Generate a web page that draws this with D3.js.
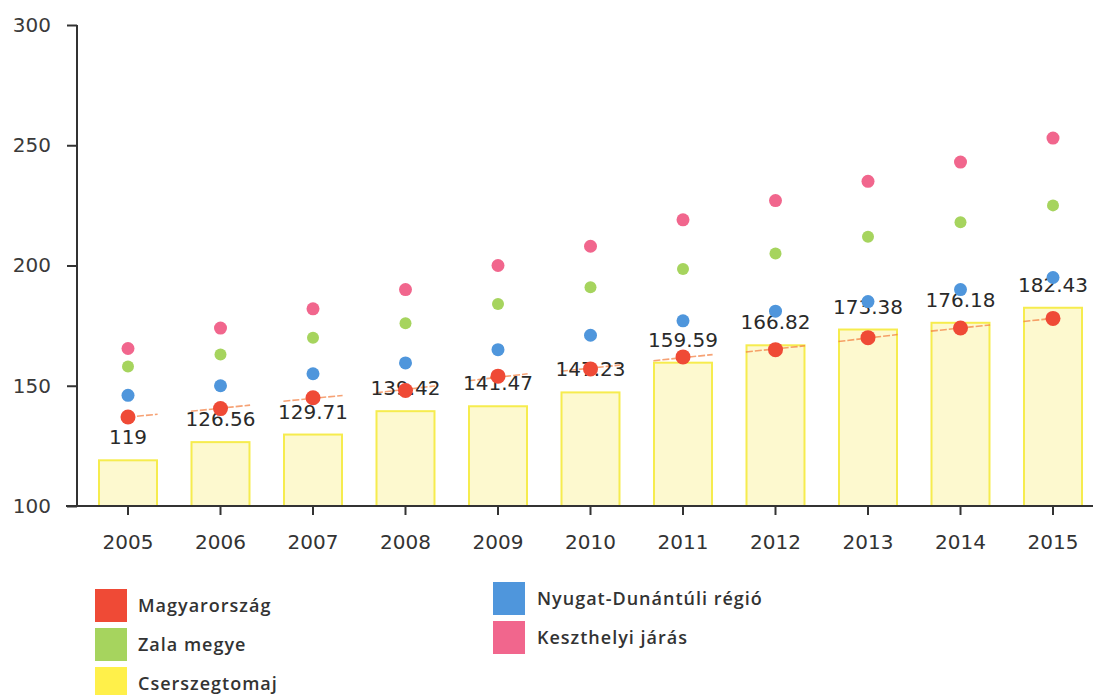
<!DOCTYPE html>
<html>
<head>
<meta charset="utf-8">
<script src="https://cdn.jsdelivr.net/npm/d3@7"></script>
<style>
  html, body { margin: 0; padding: 0; background: #fff; }
  svg { display: block; }
</style>
</head>
<body>
<svg id="chart" width="1093" height="695"></svg>
<script>
const years = ["2005","2006","2007","2008","2009","2010","2011","2012","2013","2014","2015"];
const cserszegtomaj = [119, 126.56, 129.71, 139.42, 141.47, 147.23, 159.59, 166.82, 173.38, 176.18, 182.43];
const magyarorszag = [137, 140.5, 145, 148, 154, 157, 162, 165, 170, 174, 178];
const nyugatDunantul = [146, 150, 155, 159.5, 165, 171, 177, 181, 185, 190, 195];
const zalaMegye = [158, 163, 170, 176, 184, 191, 198.5, 205, 212, 218, 225];
const keszthelyi = [165.5, 174, 182, 190, 200, 208, 219, 227, 235, 243, 253];
const yTicks = [100, 150, 200, 250, 300];

const legendLeft = ["Magyarország", "Zala megye", "Cserszegtomaj"];
const legendRight = ["Nyugat-Dunántúli régió", "Keszthelyi járás"];

const colors = {
  "Magyarország": "#ef4a36",
  "Zala megye": "#a6d45e",
  "Cserszegtomaj": "#fff04a",
  "Nyugat-Dunántúli régió": "#4f96dc",
  "Keszthelyi járás": "#f1668d"
};

const svg = d3.select("#chart");
const axisFont = "'DejaVu Sans', Verdana, sans-serif";

const x = d3.scaleBand().domain(years).range([81.75, 1099.25]).paddingInner(0.373).paddingOuter(0.1865);
const y = d3.scaleLinear().domain([100, 300]).range([506, 25]);
const cx = d => x(d) + x.bandwidth() / 2;

// Bars
svg.append("g").selectAll("rect").data(years).join("rect")
  .attr("x", d => x(d))
  .attr("width", x.bandwidth())
  .attr("y", (d, i) => y(cserszegtomaj[i]))
  .attr("height", (d, i) => y(100) - y(cserszegtomaj[i]))
  .attr("fill", "#fdf9cf")
  .attr("stroke", "#f6ec4e")
  .attr("stroke-width", 2);

// Magyarország line segments around each point
const mPts = years.map((d, i) => [cx(d), y(magyarorszag[i])]);
const segG = svg.append("g");
mPts.forEach((p, i) => {
  const f = 0.32;
  const a = i > 0 ? [p[0] + (mPts[i-1][0] - p[0]) * f, p[1] + (mPts[i-1][1] - p[1]) * f] : p;
  const b = i < mPts.length - 1 ? [p[0] + (mPts[i+1][0] - p[0]) * f, p[1] + (mPts[i+1][1] - p[1]) * f] : p;
  segG.append("line")
    .attr("x1", a[0]).attr("y1", a[1]).attr("x2", b[0]).attr("y2", b[1])
    .attr("stroke", "#f27a3a").attr("stroke-width", 1.6).attr("stroke-opacity", 0.7)
    .attr("stroke-dasharray", "7,2");
});

// Data labels
svg.append("g").selectAll("text").data(years).join("text")
  .attr("x", d => cx(d))
  .attr("y", (d, i) => y(cserszegtomaj[i]) - 16)
  .attr("text-anchor", "middle")
  .attr("font-family", axisFont)
  .attr("font-size", 20)
  .attr("fill", "#2a2a2a")
  .text((d, i) => cserszegtomaj[i]);

// Dots
function dots(vals, color, r) {
  svg.append("g").selectAll("circle").data(years).join("circle")
    .attr("cx", d => cx(d))
    .attr("cy", (d, i) => y(vals[i]))
    .attr("r", r)
    .attr("fill", color);
}
dots(keszthelyi, colors["Keszthelyi járás"], 6.5);
dots(zalaMegye, colors["Zala megye"], 6);
dots(nyugatDunantul, colors["Nyugat-Dunántúli régió"], 6.5);
dots(magyarorszag, colors["Magyarország"], 7.5);

// Y axis
const yAxis = svg.append("g").attr("transform", "translate(77,0)")
  .call(d3.axisLeft(y).tickValues(yTicks).tickSize(10).tickPadding(16).tickFormat(d3.format("d")));
yAxis.select(".domain").attr("stroke", "#333").attr("stroke-width", 2).attr("d", `M0,${y(300)}V${y(100)}`);
yAxis.selectAll(".tick line").attr("stroke", "#333").attr("stroke-width", 2);
yAxis.selectAll("text").attr("font-family", axisFont).attr("font-size", 20).attr("fill", "#3a3a3a");

// X axis
const xAxis = svg.append("g").attr("transform", `translate(0,${y(100)})`)
  .call(d3.axisBottom(x).tickSize(9).tickPadding(20));
xAxis.select(".domain").attr("stroke", "#333").attr("stroke-width", 2).attr("d", `M66,0H1093`);
xAxis.selectAll(".tick line").attr("stroke", "#333").attr("stroke-width", 2);
xAxis.selectAll("text").attr("font-family", axisFont).attr("font-size", 20).attr("fill", "#333");

// Legend
const legFont = "'Open Sans', sans-serif";
function legend(items, x0, yTop, xText) {
  items.forEach((name, i) => {
    const top = yTop + i * 39;
    svg.append("rect").attr("x", x0).attr("y", top).attr("width", 32).attr("height", 33)
      .attr("fill", colors[name]);
    svg.append("text").attr("x", xText).attr("y", top + 16)
      .attr("dominant-baseline", "central")
      .attr("font-family", legFont).attr("font-size", 18).attr("font-weight", 600)
      .attr("letter-spacing", 1.0)
      .attr("fill", "#333").text(name);
  });
}
legend(legendLeft, 95, 589, 138);
legend(legendRight, 493, 582, 537);
</script>
</body>
</html>
